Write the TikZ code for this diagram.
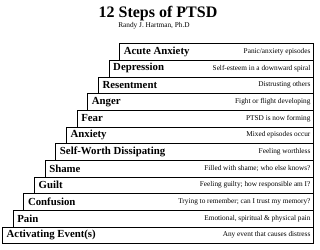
\documentclass[tikz,border=0pt]{standalone}
\usepackage{fontspec}
\setmainfont{Liberation Serif}
\begin{document}
\begin{tikzpicture}[x=1pt,y=-1pt,
  stepbox/.style={draw=black,line width=0.6pt,anchor=south west,inner sep=0pt,minimum height=16.67pt},
  stepname/.style={anchor=west,inner sep=0pt,font=\fontsize{10.8}{12}\selectfont\bfseries},
  stepdesc/.style={anchor=east,inner sep=0pt,font=\fontsize{7.3}{8}\selectfont}]
\useasboundingbox (0,0) rectangle (320,249);
\node[font=\fontsize{16}{18}\selectfont\bfseries,anchor=base] (title) at (158,17) {12 Steps of PTSD};
\node[font=\fontsize{7.3}{8}\selectfont,anchor=base] (author) at (154,27) {Randy J. Hartman, Ph.D};
\foreach \i/\name/\desc in {
  0/{Activating Event(s)}/{Any event that causes distress},
  1/{Pain}/{Emotional, spiritual \& physical pain},
  2/{Confusion}/{Trying to remember; can I trust my memory?},
  3/{Guilt}/{Feeling guilty; how responsible am I?},
  4/{Shame}/{Filled with shame; who else knows?},
  5/{Self-Worth Dissipating}/{Feeling worthless},
  6/{Anxiety}/{Mixed episodes occur},
  7/{Fear}/{PTSD is now forming},
  8/{Anger}/{Fight or flight developing},
  9/{Resentment}/{Distrusting others},
  10/{Depression}/{Self-esteem in a downward spiral},
  11/{Acute Anxiety}/{Panic/anxiety episodes}}{
  \pgfmathsetmacro\stepl{2+10.65*\i}
  \pgfmathsetmacro\stepb{244-16.67*\i}
  \pgfmathsetmacro\stepw{313-\stepl}
  \node[stepbox,minimum width=\stepw pt] (s\i) at (\stepl,\stepb) {};
  \node[stepname] (n\i) at ([xshift=4.5pt,yshift=0.3pt]s\i.west) {\name};
  \node[stepdesc] (d\i) at ([xshift=-3pt,yshift=0.3pt]s\i.east) {\desc};
}
\end{tikzpicture}
\end{document}
